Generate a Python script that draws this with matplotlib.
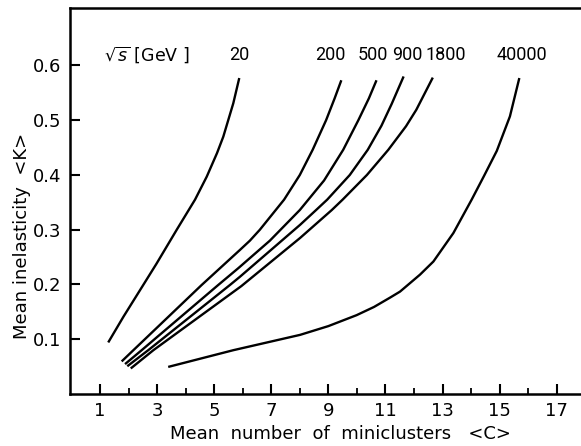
import matplotlib
matplotlib.use('Agg')
import matplotlib.pyplot as plt

# curves: mean number of miniclusters <C> vs mean inelasticity <K>
ENERGIES = ['20', '200', '500', '900', '1800', '40000']

C_20 = [1.31, 1.82, 2.55, 2.98, 3.70, 4.33, 4.74, 5.10, 5.32, 5.67, 5.87]
K_20 = [0.096, 0.141, 0.202, 0.238, 0.301, 0.355, 0.397, 0.440, 0.470, 0.531, 0.575]

C_200 = [1.79, 2.17, 4.56, 5.90, 6.25, 6.60, 7.45, 8.00, 8.45, 8.92, 9.22, 9.44]
K_200 = [0.061, 0.080, 0.199, 0.263, 0.280, 0.300, 0.355, 0.400, 0.446, 0.500, 0.540, 0.571]

C_500 = [1.91, 2.46, 5.14, 5.85, 6.95, 8.00, 8.85, 9.52, 10.05, 10.42, 10.67]
K_500 = [0.056, 0.080, 0.199, 0.230, 0.280, 0.336, 0.390, 0.446, 0.500, 0.540, 0.571]

C_900 = [1.99, 2.69, 5.55, 5.90, 8.01, 8.57, 8.96, 9.75, 10.38, 10.86, 11.22, 11.62]
K_900 = [0.052, 0.080, 0.199, 0.214, 0.309, 0.336, 0.355, 0.400, 0.446, 0.490, 0.530, 0.578]

C_1800 = [2.11, 2.87, 5.95, 8.01, 9.12, 9.50, 10.35, 11.10, 11.72, 12.08, 12.64]
K_1800 = [0.048, 0.080, 0.197, 0.285, 0.336, 0.355, 0.400, 0.446, 0.489, 0.519, 0.576]

C_40000 = [3.43, 5.67, 8.01, 9.00, 9.99, 10.60, 11.16, 11.51, 12.21, 12.68, 13.38,
           14.02, 14.45, 14.90, 15.36, 15.68]
K_40000 = [0.050, 0.080, 0.108, 0.124, 0.144, 0.159, 0.176, 0.187, 0.218, 0.242,
           0.294, 0.355, 0.398, 0.444, 0.507, 0.575]

LABEL_X = [5.87, 9.06, 10.55, 11.77, 13.12, 15.78]
LABEL_Y = 0.619

X_MAJOR = [1, 3, 5, 7, 9, 11, 13, 15, 17]
X_MINOR = [2, 4, 6, 8, 10, 12, 14, 16]
Y_TICKS = [0.1, 0.2, 0.3, 0.4, 0.5, 0.6]

plt.rcParams['font.family'] = ['DejaVu Sans']
plt.rcParams['mathtext.fontset'] = 'dejavusans'

W, H = 581, 446
fig = plt.figure(figsize=(W / 100, H / 100), dpi=100, facecolor='white')
ax = fig.add_axes([70 / W, 52 / H, 511 / W, 386 / H])

curves = [(C_20, K_20), (C_200, K_200), (C_500, K_500), (C_900, K_900),
          (C_1800, K_1800), (C_40000, K_40000)]
for (c, k) in curves:
    ax.plot(c, k, color='black', lw=1.7, solid_joinstyle='round')

for lab, lx in zip(ENERGIES, LABEL_X):
    ax.text(lx, LABEL_Y, lab, ha='center', va='center', fontsize=13,
            family=['Roboto', 'DejaVu Sans'])
ax.text(2.65, LABEL_Y, r'$\sqrt{s}$ [GeV ]', ha='center', va='center', fontsize=12.5)

ax.set_xlim(-0.05, 17.85)
ax.set_ylim(0, 0.705)
ax.set_xticks(X_MAJOR)
ax.set_xticks(X_MINOR, minor=True)
ax.set_yticks(Y_TICKS)
ax.set_yticklabels(['%.1f' % v for v in Y_TICKS])
ax.tick_params(axis='both', which='major', direction='in', length=7, width=1.5,
               labelsize=13, pad=6)
ax.tick_params(axis='x', which='minor', direction='in', length=4, width=1.3)
ax.tick_params(axis='y', which='minor', left=False)

for side in ['left', 'bottom', 'top']:
    ax.spines[side].set_linewidth(1.8)
ax.spines['right'].set_visible(False)

ax.set_xlabel('Mean  number  of  miniclusters   <C>', fontsize=13)
ax.xaxis.label.set_va('center')
ax.xaxis.set_label_coords((340 - 70) / 511, -(434 - 394) / 386)
ax.set_ylabel('Mean inelasticity  <K>', fontsize=13)
ax.yaxis.label.set_va('center')
ax.yaxis.set_label_coords((22 - 70) / 511, (394 - 236) / 386)

fig.savefig('out.png', dpi=100, facecolor='white')
